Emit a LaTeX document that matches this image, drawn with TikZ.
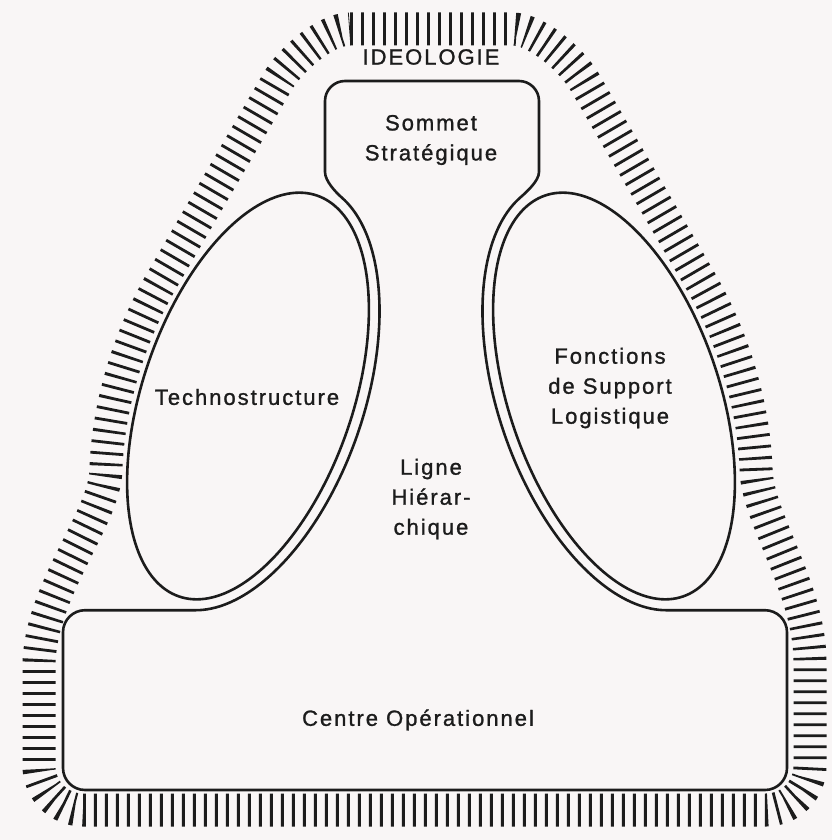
\documentclass[tikz,border=0pt]{standalone}
\usepackage{fontspec}
\setmainfont{Liberation Sans}
\newfontfamily\lblfont[LetterSpace=9,FakeBold=1.2]{Liberation Sans}
\definecolor{ink}{RGB}{28,28,28}
\definecolor{paper}{RGB}{249,246,246}
\begin{document}
\begin{tikzpicture}[x=1pt,y=-1pt,
  outline/.style={draw=ink, line width=2.6pt, line join=round},
  hatchband/.style={draw=ink, line width=33pt, dash pattern=on 2.8pt off 8.2pt},
  lbl/.style={text=ink, font=\lblfont\fontsize{22}{30}\selectfont, align=center, inner sep=0pt}
]
\fill[paper] (0,0) rectangle (832,840);
\useasboundingbox (0,0) rectangle (832,840);

% ideology hatched band (centre line of the ticks)
\draw[hatchband] (350,29) -- (512,29) .. controls (537,29) and (572.1,60.4) .. (584.7,82)
  -- plot[domain=70:120, samples=30, variable=\t]
     ({614-234*cos(\t)*0.32557+127*sin(\t)*0.94552},{396-234*cos(\t)*0.94552-127*sin(\t)*0.32557})
  .. controls (758,520) and (811,590) .. (810,665)
  -- (810,766) .. controls (810,790.3) and (790.3,810) .. (766,810)
  -- (83,810) .. controls (58.7,810) and (39,790.3) .. (39,766)
  -- (39,665) .. controls (40,590) and (104,520) .. (105.9,470.8)
  -- plot[domain=120:70, samples=30, variable=\t]
     ({248+234*cos(\t)*0.32557-127*sin(\t)*0.94552},{396-234*cos(\t)*0.94552-127*sin(\t)*0.32557})
  -- (277.3,82) .. controls (289.9,60.4) and (325,29) .. (350,29) -- cycle;

% strategic apex + middle line + operating core (one outline)
\draw[outline] (195.9,610.2) -- (85,610.2) .. controls (72.9,610.2) and (63,620.1) .. (63,632.2)
  -- (63,768) .. controls (63,780.1) and (72.9,790) .. (85,790)
  -- (765,790) .. controls (777.1,790) and (787,780.1) .. (787,768)
  -- (787,632.2) .. controls (787,620.1) and (777.1,610.2) .. (765,610.2)
  -- (666.1,610.2)
  -- plot[domain=-169.84:-12, samples=90, variable=\t]
     ({614-223*cos(\t)*0.32557+116*sin(\t)*0.94552},{396-223*cos(\t)*0.94552-116*sin(\t)*0.32557})
  .. controls (526.2,192.3) and (539,181) .. (539,172)
  -- (539,101) .. controls (539,90) and (530,81) .. (519,81)
  -- (345,81) .. controls (334,81) and (325,90) .. (325,101)
  -- (325,172) .. controls (325,181) and (335.8,192.3) .. (341.8,197.6)
  -- plot[domain=-12:-169.84, samples=90, variable=\t]
     ({248+223*cos(\t)*0.32557-116*sin(\t)*0.94552},{396-223*cos(\t)*0.94552-116*sin(\t)*0.32557})
  -- cycle;

% technostructure and support staff ellipses
\draw[outline] plot[domain=0:360, samples=181, variable=\t]
  ({248+212*cos(\t)*0.32557-105*sin(\t)*0.94552},{396-212*cos(\t)*0.94552-105*sin(\t)*0.32557}) -- cycle;
\draw[outline] plot[domain=0:360, samples=181, variable=\t]
  ({614-212*cos(\t)*0.32557+105*sin(\t)*0.94552},{396-212*cos(\t)*0.94552-105*sin(\t)*0.32557}) -- cycle;

% labels
\node[lbl] (ideo) at (431,57) {IDEOLOGIE};
\node[lbl] (sommet) at (431,140) {Sommet\\Stratégique};
\node[lbl] (techno) at (247,397) {Technostructure};
\node[lbl] (support) at (610,388) {Fonctions\\de Support\\Logistique};
\node[lbl] (ligne) at (431,499) {Ligne\\Hiérar-\\chique};
\node[lbl] (centre) at (418,720) {Centre Opérationnel};
\end{tikzpicture}
\end{document}
